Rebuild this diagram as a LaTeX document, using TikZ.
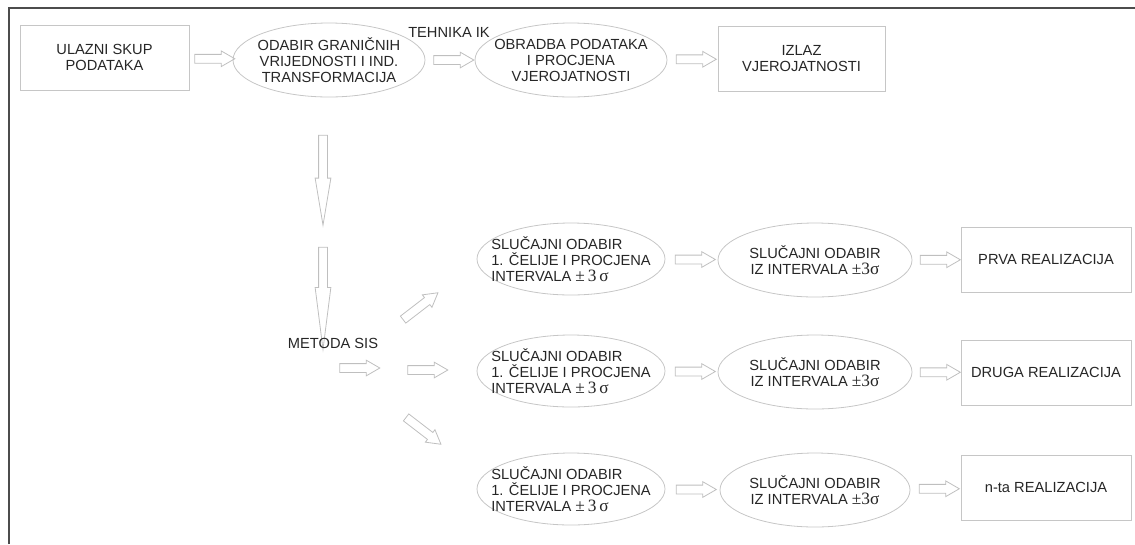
\documentclass[tikz,border=0pt]{standalone}
\usepackage{fontspec}
\setmainfont{Liberation Sans}
\newfontfamily\tms{Liberation Serif}
\usetikzlibrary{shapes.geometric,shapes.arrows,calc}

\newcommand{\pmsig}{{\tms\fontsize{13}{12}\selectfont ±\,3\,σ}}
\newcommand{\pmsigb}{{\tms\fontsize{13}{12}\selectfont ±3σ}}

\tikzset{
    box/.style={draw=gray!45, line width=0.6pt, minimum width=127.5pt, minimum height=48.75pt,
        align=center, text=black!85, font=\fontsize{11}{12}\selectfont},
    oval/.style={ellipse, draw=gray!45, line width=0.6pt, minimum width=144pt, minimum height=55.5pt, inner sep=0pt},
    txt/.style={align=center, text=black!85, font=\fontsize{11}{12}\selectfont, inner sep=0pt},
    blk/.style={single arrow, draw=gray!50, line width=0.6pt, minimum height=30pt, minimum width=11.25pt,
        inner sep=3pt, single arrow head extend=2.6pt, single arrow tip angle=60},
}

\begin{document}
\begin{tikzpicture}[x=0.75pt,y=-0.75pt]
    \useasboundingbox (0,0) rectangle (1135,544);
    \draw[black!70, line width=1.8pt] (9,544) -- (9,8) -- (1135,8);

    \node[box, minimum width=126.75pt] (ulaz) at (104.5,57.5) {ULAZNI SKUP\\PODATAKA};
    \node[oval] (odabir) at (329,60) {};
    \node[txt] (odabirtxt) at (odabir) {ODABIR GRANIČNIH\\VRIJEDNOSTI I IND.\\TRANSFORMACIJA};
    \node[oval] (obrada) at (571,60) {};
    \node[txt] (obradatxt) at (obrada) {OBRADBA PODATAKA\\I PROCJENA\\VJEROJATNOSTI};
    \node[box, minimum width=125.25pt] (izlaz) at (801.5,58.5) {IZLAZ\\VJEROJATNOSTI};
    \node[txt] (tehnika) at (449,32) {TEHNIKA IK};

    \node[blk] (a1) at ($(ulaz.east)!0.5!(odabir.west)$) {};
    \node[blk] (a2) at ($(odabir.east)!0.5!(obrada.west)$) {};
    \node[blk] (a3) at ($(obrada.east)!0.5!(izlaz.west)$) {};

    \node[blk, shape border rotate=270, minimum height=67.5pt, single arrow tip angle=19] (v1) at (323,167) {};
    \node[blk, shape border rotate=270, minimum height=76.5pt, single arrow tip angle=14.5] (v2) at (323,281) {};
    \node[txt] (metoda) at (333,343) {METODA SIS};

    \node[blk] (m1) at (356,368) {};
    \node[blk] (m2) at (424,370) {};
    \node[blk, rotate=37.6, minimum height=33pt] (d1) at (417.5,308.5) {};
    \node[blk, rotate=-37.6, minimum height=33pt] (d2) at (420.5,428.5) {};

    \node[oval, minimum width=141pt, minimum height=54pt] (celija1) at (571,259) {};
    \node[txt, align=left] (celija1txt) at (celija1) {SLUČAJNI ODABIR\\1. ČELIJE I PROCJENA\\INTERVALA \pmsig};
    \node[oval, minimum width=145.5pt] (interval1) at (815,260) {};
    \node[txt] (interval1txt) at (interval1) {SLUČAJNI ODABIR\\IZ INTERVALA \pmsigb};
    \node[box] (prva) at (1046,259.5) {PRVA REALIZACIJA};

    \node[oval, minimum width=141pt, minimum height=54pt] (celija2) at (571,371) {};
    \node[txt, align=left] (celija2txt) at (celija2) {SLUČAJNI ODABIR\\1. ČELIJE I PROCJENA\\INTERVALA \pmsig};
    \node[oval, minimum width=145.5pt] (interval2) at (815,372) {};
    \node[txt] (interval2txt) at (interval2) {SLUČAJNI ODABIR\\IZ INTERVALA \pmsigb};
    \node[box] (druga) at (1046,372.5) {DRUGA REALIZACIJA};

    \node[oval, minimum width=141pt, minimum height=54pt] (celija3) at (571,489) {};
    \node[txt, align=left] (celija3txt) at (celija3) {SLUČAJNI ODABIR\\1. ČELIJE I PROCJENA\\INTERVALA \pmsig};
    \node[oval, minimum width=142.5pt] (interval3) at (815,490) {};
    \node[txt] (interval3txt) at (interval3) {SLUČAJNI ODABIR\\IZ INTERVALA \pmsigb};
    \node[box] (nta) at (1046,487.5) {n-ta REALIZACIJA};

    \node[blk] (r1a) at ($(celija1.east)!0.5!(interval1.west)$) {};
    \node[blk] (r1b) at ($(interval1.east)!0.5!(prva.west)$) {};
    \node[blk] (r2a) at ($(celija2.east)!0.5!(interval2.west)$) {};
    \node[blk] (r2b) at ($(interval2.east)!0.5!(druga.west)$) {};
    \node[blk] (r3a) at ($(celija3.east)!0.5!(interval3.west)$) {};
    \node[blk] (r3b) at ($(interval3.east)!0.5!(nta.west)$) {};
\end{tikzpicture}
\end{document}
